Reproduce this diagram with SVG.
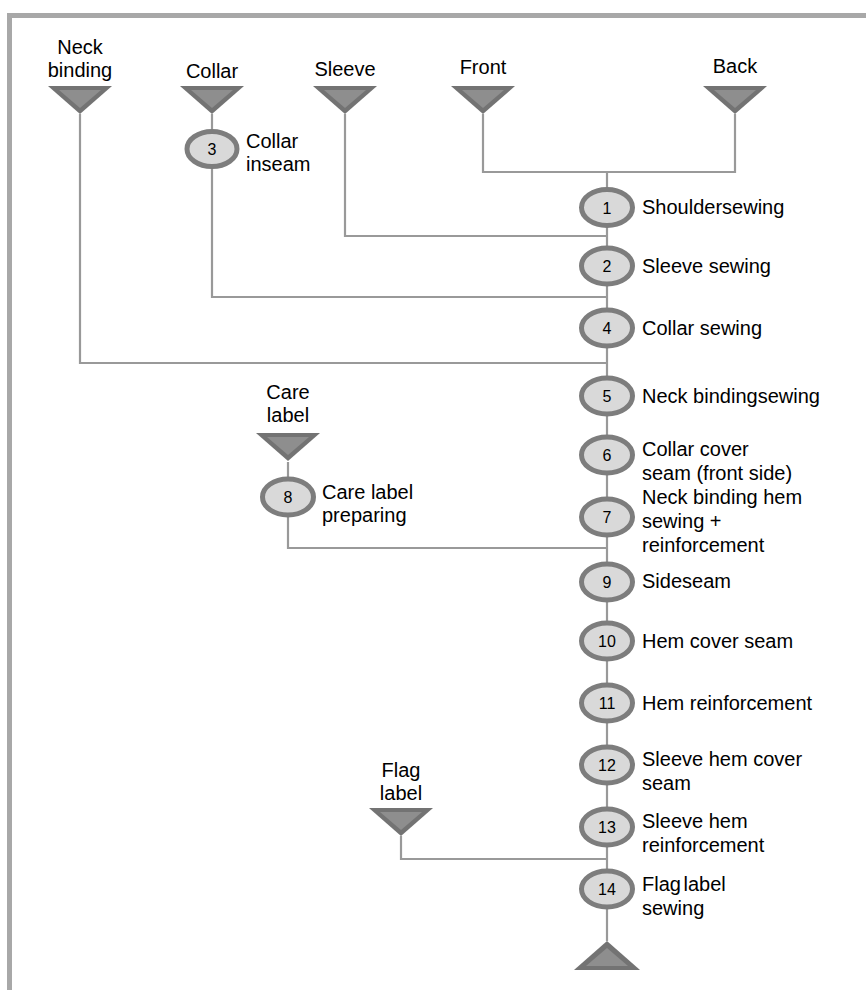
<svg xmlns="http://www.w3.org/2000/svg" width="866" height="990" viewBox="0 0 866 990">
<defs>
<style>
.frame{fill:#a8a8a8}
.conn{fill:none;stroke:#999;stroke-width:2.2}
.op{fill:#d9d9d9;stroke:#7d7d7d;stroke-width:5}
.num{font-family:"Liberation Sans",Arial,sans-serif;font-size:16px;fill:#000;text-anchor:middle}
.lbl{font-family:"Liberation Sans",Arial,sans-serif;font-size:20px;fill:#000}
.top{font-family:"Liberation Sans",Arial,sans-serif;font-size:20px;fill:#000;text-anchor:middle}
.tri-o{fill:#737373}
.tri-i{fill:#8e8e8e}
</style>
<g id="tri">
<polygon class="tri-o" points="-32,0 32,0 0,28"/>
<polygon class="tri-i" points="-21,4 21,4 0,22"/>
</g>
</defs>
<rect width="866" height="990" fill="#fff"/>
<rect class="frame" x="7" y="13" width="859" height="5"/>
<rect class="frame" x="7" y="13" width="5" height="977"/>

<g id="connectors">
<path class="conn" d="M80,114 V363 H607"/>
<path class="conn" d="M212,114 V130 M212,168 V297 H607"/>
<path class="conn" d="M345,114 V236 H607"/>
<path class="conn" d="M483,114 V172 H735 V114"/>
<path class="conn" d="M607,172 V941"/>
<path class="conn" d="M288,462 V477 M288,517 V548 H607"/>
<path class="conn" d="M401,836 V859 H607"/>
</g>

<g id="neck-binding"><use href="#tri" x="80" y="86"/><text class="top" x="80" y="54">Neck</text><text class="top" x="80" y="77">binding</text></g>
<g id="collar"><use href="#tri" x="212" y="86"/><text class="top" x="212" y="78">Collar</text></g>
<g id="sleeve"><use href="#tri" x="345" y="86"/><text class="top" x="345" y="76">Sleeve</text></g>
<g id="front"><use href="#tri" x="483" y="86"/><text class="top" x="483" y="74">Front</text></g>
<g id="back"><use href="#tri" x="735" y="86"/><text class="top" x="735" y="73">Back</text></g>
<g id="care-label"><use href="#tri" x="288" y="433"/><text class="top" x="288" y="399">Care</text><text class="top" x="288" y="422">label</text></g>
<g id="flag-label"><use href="#tri" x="401" y="808"/><text class="top" x="401" y="777">Flag</text><text class="top" x="401" y="800">label</text></g>

<g id="op3"><ellipse class="op" cx="212" cy="149" rx="25" ry="17.5"/><text class="num" x="212" y="155">3</text><text class="lbl" x="246" y="148">Collar</text><text class="lbl" x="246" y="171">inseam</text></g>
<g id="op1"><ellipse class="op" cx="607" cy="207.5" rx="25.5" ry="18"/><text class="num" x="607" y="213.5">1</text><text class="lbl" x="642" y="214">Shouldersewing</text></g>
<g id="op2"><ellipse class="op" cx="607" cy="266" rx="25.5" ry="18"/><text class="num" x="607" y="272">2</text><text class="lbl" x="642" y="273">Sleeve sewing</text></g>
<g id="op4"><ellipse class="op" cx="607" cy="328" rx="25.5" ry="18"/><text class="num" x="607" y="334">4</text><text class="lbl" x="642" y="335">Collar sewing</text></g>
<g id="op5"><ellipse class="op" cx="607" cy="396" rx="25.5" ry="18"/><text class="num" x="607" y="402">5</text><text class="lbl" x="642" y="403">Neck bindingsewing</text></g>
<g id="op6"><ellipse class="op" cx="607" cy="455" rx="25.5" ry="18"/><text class="num" x="607" y="461">6</text><text class="lbl" x="642" y="456">Collar cover</text><text class="lbl" x="642" y="480">seam (front side)</text></g>
<g id="op7"><ellipse class="op" cx="607" cy="517" rx="25.5" ry="18"/><text class="num" x="607" y="523">7</text><text class="lbl" x="642" y="504">Neck binding hem</text><text class="lbl" x="642" y="528">sewing +</text><text class="lbl" x="642" y="552">reinforcement</text></g>
<g id="op8"><ellipse class="op" cx="288" cy="497" rx="25.5" ry="18"/><text class="num" x="288" y="503">8</text><text class="lbl" x="322" y="499">Care label</text><text class="lbl" x="322" y="522">preparing</text></g>
<g id="op9"><ellipse class="op" cx="607" cy="582" rx="25.5" ry="18"/><text class="num" x="607" y="588">9</text><text class="lbl" x="642" y="588">Sideseam</text></g>
<g id="op10"><ellipse class="op" cx="607" cy="641" rx="25.5" ry="18"/><text class="num" x="607" y="647">10</text><text class="lbl" x="642" y="648">Hem cover seam</text></g>
<g id="op11"><ellipse class="op" cx="607" cy="703" rx="25.5" ry="18"/><text class="num" x="607" y="709">11</text><text class="lbl" x="642" y="710">Hem reinforcement</text></g>
<g id="op12"><ellipse class="op" cx="607" cy="765" rx="25.5" ry="18"/><text class="num" x="607" y="771">12</text><text class="lbl" x="642" y="766">Sleeve hem cover</text><text class="lbl" x="642" y="790">seam</text></g>
<g id="op13"><ellipse class="op" cx="607" cy="827" rx="25.5" ry="18"/><text class="num" x="607" y="833">13</text><text class="lbl" x="642" y="828">Sleeve hem</text><text class="lbl" x="642" y="852">reinforcement</text></g>
<g id="op14"><ellipse class="op" cx="607" cy="889" rx="25.5" ry="18"/><text class="num" x="607" y="895">14</text><text class="lbl" x="642" y="891" word-spacing="-3">Flag label</text><text class="lbl" x="642" y="915">sewing</text></g>
<g id="end"><polygon class="tri-o" points="607,941 640,970 574,970"/><polygon class="tri-i" points="607,948 628,966 586,966"/></g>
</svg>
